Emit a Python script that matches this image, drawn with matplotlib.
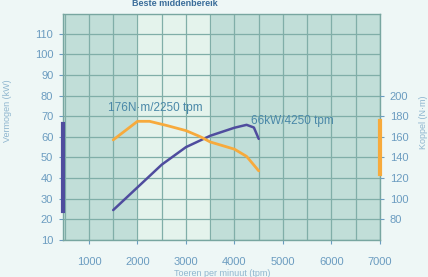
import matplotlib
matplotlib.use("Agg")
import matplotlib.pyplot as plt
import numpy as np

# Data
rpm_power = [1500, 1750, 2000, 2500, 3000, 3500, 4000, 4250, 4400, 4500]
power_kw = [24.5, 30, 35.5, 46.5, 55, 60.5, 64.4, 65.8, 64.5, 59]
rpm_torque = [1500, 1750, 2000, 2250, 2600, 3000, 3300, 3500, 4000, 4250, 4500]
torque_nm = [157, 166, 175, 175, 171, 166, 160, 155, 148, 141, 127]
x_ticks = [1000, 2000, 3000, 4000, 5000, 6000, 7000]
left_ticks = [10, 20, 30, 40, 50, 60, 70, 80, 90, 100, 110]
right_ticks = [80, 100, 120, 140, 160, 180, 200]
band = [2000, 3500]
power_range = [24, 66]
torque_range = [124, 175]

plt.rcParams["font.family"] = ["Liberation Sans", "DejaVu Sans"]

fig_bg = "#eef7f6"
dark_fill = "#c1ded8"
light_fill = "#e4f3ec"
grid_c = "#80aea8"
tick_c = "#6b9cc0"
purple = "#4f4c9e"
orange = "#f7aa3c"

fig = plt.figure(figsize=(4.28, 2.77), dpi=100, facecolor=fig_bg)
ax = fig.add_axes([63/428, 37/277, (380-63)/428, (240-14)/277])
ax.set_facecolor(dark_fill)
xmin, xmax = 465, 7000
ax.set_xlim(xmin, xmax)
ax.set_ylim(10, 119.5)
ax.axvspan(band[0], band[1], color=light_fill, zorder=0)

ax.set_xticks(x_ticks)
ax.set_xticks(np.arange(500, 7001, 500), minor=True)
ax.set_yticks(left_ticks)
ax.grid(True, which="both", axis="x", color=grid_c, lw=0.9, zorder=1)
ax.grid(True, which="major", axis="y", color=grid_c, lw=0.9, zorder=1)
ax.tick_params(axis="x", which="minor", length=0)
ax.tick_params(axis="both", which="major", colors=tick_c, labelsize=8,
               length=3, width=0.8, direction="out", pad=4)
ax.tick_params(axis="x", which="major", pad=9)
for s in ax.spines.values():
    s.set_color("#78a6a0")
    s.set_linewidth(1.0)

ax.plot(rpm_power, power_kw, color=purple, lw=1.8, zorder=4, solid_capstyle="round")
ax.plot([xmin, xmin], power_range, color=purple, lw=3, clip_on=False, zorder=5)

ax2 = ax.twinx()
ax2.set_ylim(2*10+40, 2*119.5+40)
ax2.set_yticks(right_ticks)
ax2.tick_params(axis="y", colors=tick_c, labelsize=8, length=3, width=0.8, pad=4)
for s in ax2.spines.values():
    s.set_visible(False)
ax2.plot(rpm_torque, torque_nm, color=orange, lw=2.0, zorder=3, solid_capstyle="round")
ax2.plot([xmax, xmax], torque_range, color=orange, lw=3, clip_on=False, zorder=5)

ax.text(1400, 74, "176N·m/2250 tpm", color="#4a88a8", fontsize=8.5, va="center", ha="left", zorder=6)
ax.text(4350, 67.5, "66kW/4250 tpm", color="#4a88a8", fontsize=8.5, va="center", ha="left", zorder=6)

fig.text(175/428, 1-4/277, "Beste middenbereik", color="#3a6d9a", fontsize=6.5,
         fontweight="bold", ha="center", va="center")
fig.text(8/428, 0.6, "Vermogen (kW)", color="#8fb6cf", fontsize=6.5, rotation=90,
         ha="center", va="center")
fig.text(424/428, 0.56, "Koppel (N·m)", color="#8fb6cf", fontsize=6.5, rotation=90,
         ha="center", va="center")
fig.text(222/428, 4/277, "Toeren per minuut (tpm)", color="#8fb6cf", fontsize=6.5,
         ha="center", va="center")

fig.savefig("out.png", dpi=100, facecolor=fig_bg)
